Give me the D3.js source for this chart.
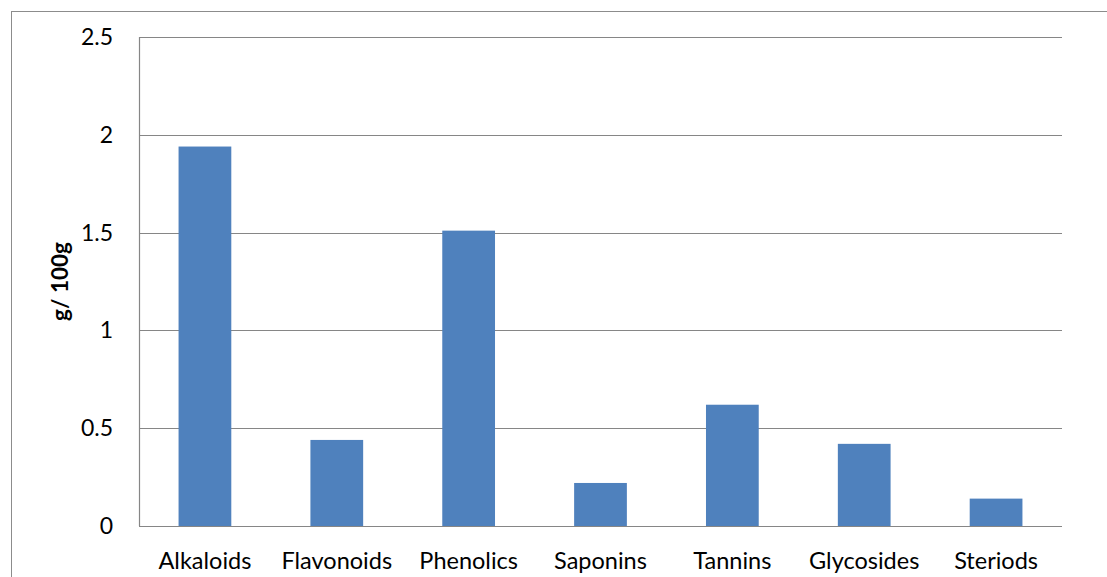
<!DOCTYPE html>
<html>
<head>
<meta charset="utf-8">
<script src="https://cdn.jsdelivr.net/npm/d3@7"></script>
<style>
  html, body { margin: 0; padding: 0; background: #fff; }
  svg { display: block; }
  text { font-family: Lato, "Open Sans", sans-serif; fill: #000; }
</style>
</head>
<body>
<svg id="chart" width="1107" height="577"></svg>
<script>
// Phytochemical composition (g per 100 g)
const categories = ["Alkaloids", "Flavonoids", "Phenolics", "Saponins", "Tannins", "Glycosides", "Steriods"];
const values = [1.94, 0.44, 1.51, 0.22, 0.62, 0.42, 0.14];
const yTicks = [0, 0.5, 1, 1.5, 2, 2.5];
const yTickLabels = ["0", "0.5", "1", "1.5", "2", "2.5"];
const yTitle = "g/ 100g";

const svg = d3.select("#chart");
const plot = { left: 139, right: 1062, top: 37, bottom: 526 };

// outer chart frame (extends past the window edge)
svg.append("rect")
  .attr("x", 11.5).attr("y", 11.5)
  .attr("width", 1200).attr("height", 700)
  .attr("fill", "none").attr("stroke", "#8c8c8c").attr("stroke-width", 1);

const x = d3.scaleBand().domain(categories)
  .range([plot.left, plot.right]).paddingInner(0.6).paddingOuter(0.3);
const y = d3.scaleLinear().domain([0, 2.5]).range([plot.bottom, plot.top]);

// horizontal gridlines
svg.append("g").selectAll("line").data(yTicks).join("line")
  .attr("x1", plot.left).attr("x2", plot.right)
  .attr("y1", d => Math.round(y(d)) + 0.5).attr("y2", d => Math.round(y(d)) + 0.5)
  .attr("stroke", "#868686").attr("stroke-width", 1.2);

// vertical axis line
svg.append("line")
  .attr("x1", plot.left + 0.5).attr("x2", plot.left + 0.5)
  .attr("y1", plot.top).attr("y2", plot.bottom)
  .attr("stroke", "#868686").attr("stroke-width", 1.2);

// bars
svg.append("g").selectAll("rect").data(values).join("rect")
  .attr("x", (d, i) => x(categories[i]))
  .attr("width", x.bandwidth())
  .attr("y", d => y(d))
  .attr("height", d => y(0) - y(d))
  .attr("fill", "#4F81BD");

// y tick labels
svg.append("g").selectAll("text").data(yTicks).join("text")
  .attr("x", 113).attr("y", d => y(d))
  .attr("dy", "0.35em").attr("text-anchor", "end")
  .style("font-size", "23px")
  .text((d, i) => yTickLabels[i]);

// x category labels
svg.append("g").selectAll("text").data(categories).join("text")
  .attr("x", d => x(d) + x.bandwidth() / 2).attr("y", 569)
  .attr("text-anchor", "middle")
  .style("font-size", "23.5px")
  .text(d => d);

// y axis title
svg.append("text")
  .attr("transform", "translate(68," + ((plot.top + plot.bottom) / 2) + ") rotate(-90)")
  .attr("text-anchor", "middle")
  .style("font-size", "22.5px").style("font-weight", "bold")
  .text(yTitle);
</script>
</body>
</html>
